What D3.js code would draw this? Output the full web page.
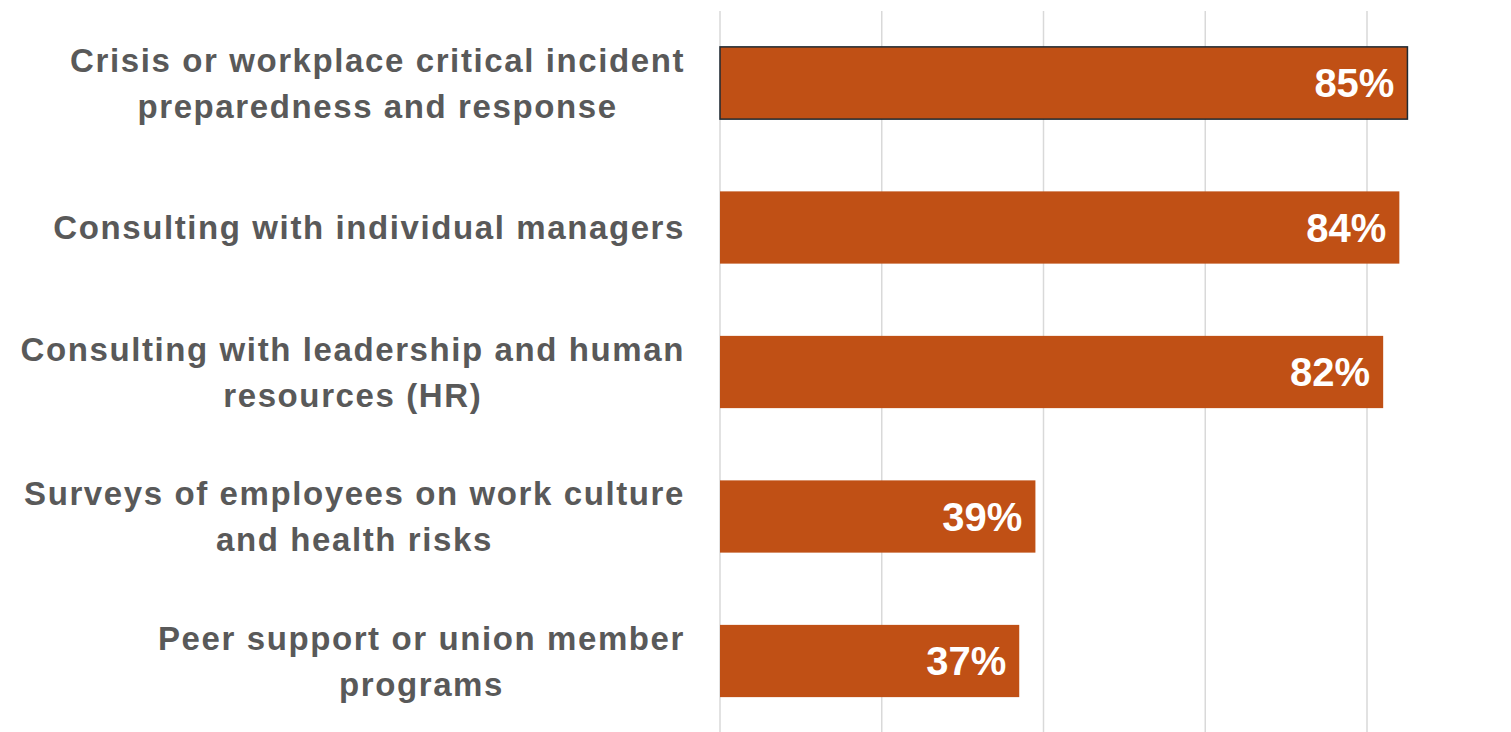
<!DOCTYPE html>
<html>
<head>
<meta charset="utf-8">
<script src="https://cdn.jsdelivr.net/npm/d3@7"></script>
<style>
  html, body { margin: 0; padding: 0; background: #ffffff; }
  svg { display: block; }
</style>
</head>
<body>
<svg id="chart" width="1511" height="732"></svg>
<script>
// Categories (each entry is a list of label lines)
const categories = [
  ["Crisis or workplace critical incident", "preparedness and response"],
  ["Consulting with individual managers"],
  ["Consulting with leadership and human", "resources (HR)"],
  ["Surveys of employees on work culture", "and health risks"],
  ["Peer support or union member", "programs"]
];
const values = [85, 84, 82, 39, 37];
const gridTicks = [0, 20, 40, 60, 80];

const svg = d3.select("#chart");
const W = 1511, H = 732;
const x0 = 720;

const x = d3.scaleLinear().domain([0, 100]).range([x0, x0 + 808.75]);
const y = d3.scaleBand()
  .domain(d3.range(categories.length))
  .range([10.75, 733.25])
  .paddingInner(0.5)
  .paddingOuter(0.25);

// vertical gridlines
svg.append("g")
  .selectAll("line")
  .data(gridTicks)
  .join("line")
  .attr("x1", d => x(d)).attr("x2", d => x(d))
  .attr("y1", 11).attr("y2", H)
  .attr("stroke", "#d9d9d9")
  .attr("stroke-width", 1.5);

// bars
svg.append("g")
  .selectAll("rect")
  .data(values)
  .join("rect")
  .attr("x", x(0))
  .attr("y", (d, i) => y(i))
  .attr("width", d => x(d) - x(0))
  .attr("height", y.bandwidth())
  .attr("fill", "#c05015")
  .attr("stroke", (d, i) => i === 0 ? "#1f2a33" : "none")
  .attr("stroke-width", 1.5);

// value labels inside bar ends
svg.append("g")
  .selectAll("text")
  .data(values)
  .join("text")
  .attr("x", d => x(d) - 13)
  .attr("y", (d, i) => y(i) + y.bandwidth() / 2)
  .attr("dy", "0.36em")
  .attr("text-anchor", "end")
  .attr("fill", "#ffffff")
  .attr("font-family", "Liberation Sans, Arial, sans-serif")
  .attr("font-weight", "bold")
  .attr("font-size", 40)
  .text(d => d + "%");

// category labels: centered lines, block right-aligned to the axis
const labelRight = 685;
const lineH = 46;
const lg = svg.append("g");
categories.forEach((lines, i) => {
  const cy = y(i) + y.bandwidth() / 2;
  const texts = lines.map((s, j) => lg.append("text")
    .attr("y", cy + (j - (lines.length - 1) / 2) * lineH)
    .attr("dy", "0.36em")
    .attr("text-anchor", "middle")
    .attr("fill", "#595959")
    .attr("font-family", "Liberation Sans, Arial, sans-serif")
    .attr("font-weight", "bold")
    .attr("font-size", 33)
    .attr("letter-spacing", "1.6px")
    .text(s));
  const maxW = d3.max(texts, t => t.node().getComputedTextLength());
  texts.forEach(t => t.attr("x", labelRight - maxW / 2));
});
</script>
</body>
</html>
